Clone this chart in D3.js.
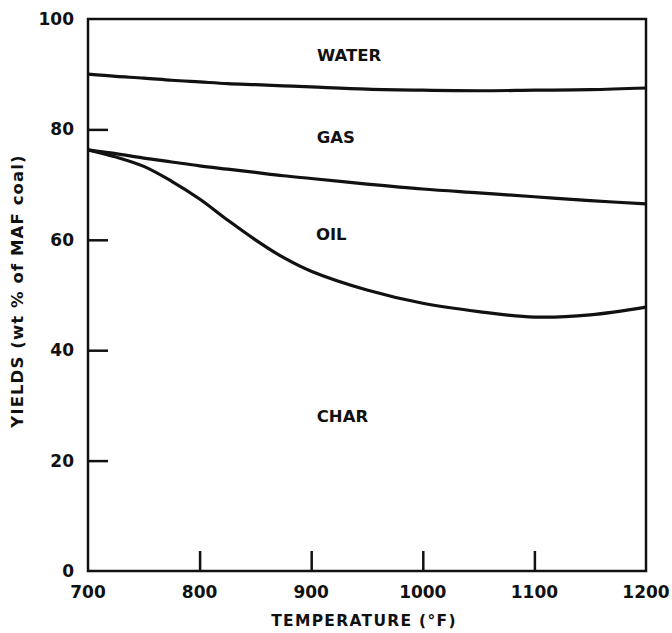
<!DOCTYPE html>
<html><head><meta charset="utf-8">
<script src="https://cdn.jsdelivr.net/npm/d3@7"></script>
<style>body{margin:0;background:#fff}svg{display:block}text{font-family:"DejaVu Sans",sans-serif;font-weight:bold;fill:#111}</style>
</head><body>
<script>
const temps = [700,725,750,775,800,825,850,875,900,950,1000,1050,1100,1150,1200];
const waterLine = [90.0,89.6,89.3,88.9,88.6,88.3,88.1,87.9,87.7,87.3,87.1,87.0,87.1,87.2,87.5];
const gasLine = [76.3,75.6,74.8,74.1,73.4,72.8,72.2,71.6,71.1,70.1,69.2,68.5,67.8,67.1,66.5];
const oilLine = [76.3,75.0,73.3,70.6,67.4,63.6,60.0,56.8,54.3,50.9,48.5,47.0,46.0,46.4,47.8];
const xTicks = [700,800,900,1000,1100,1200];
const yTicks = [0,20,40,60,80,100];
const regionLabels = ["WATER","GAS","OIL","CHAR"];
const regionT = [934,922,918,928];
const regionY = [92.4,77.5,60.0,27.0];

const W=672,H=633, L=88,R=646,T=19,B=571;
const svg=d3.select("body").append("svg").attr("width",W).attr("height",H);
const x=d3.scaleLinear().domain([700,1200]).range([L,R]);
const y=d3.scaleLinear().domain([0,100]).range([B,T]);
const ink="#111";

svg.append("rect").attr("x",L).attr("y",T).attr("width",R-L).attr("height",B-T)
  .attr("fill","none").attr("stroke",ink).attr("stroke-width",2.5);

const xAxis=d3.axisBottom(x).tickValues(xTicks.filter(d=>d>700&&d<1200)).tickSize(-20).tickFormat("");
svg.append("g").attr("transform",`translate(0,${B})`).call(xAxis)
  .call(g=>{g.select(".domain").remove();g.selectAll("line").attr("stroke",ink).attr("stroke-width",2.5);});
const yAxis=d3.axisLeft(y).tickValues(yTicks.filter(d=>d>0&&d<100)).tickSize(-20).tickFormat("");
svg.append("g").attr("transform",`translate(${L},0)`).call(yAxis)
  .call(g=>{g.select(".domain").remove();g.selectAll("line").attr("stroke",ink).attr("stroke-width",2.5);});

svg.append("g").selectAll("text").data(xTicks).join("text")
  .attr("x",d=>x(d)).attr("y",598).attr("text-anchor","middle").attr("font-size",17).text(d=>d);
svg.append("g").selectAll("text").data(yTicks).join("text")
  .attr("x",74).attr("y",d=>y(d)+6).attr("text-anchor","end").attr("font-size",17).text(d=>d);

const line=d3.line().x((d,i)=>x(temps[i])).y(d=>y(d)).curve(d3.curveCatmullRom.alpha(0.5));
[waterLine,gasLine,oilLine].forEach(s=>{
  svg.append("path").attr("d",line(s)).attr("fill","none").attr("stroke",ink).attr("stroke-width",3.2);
});

svg.append("g").selectAll("text").data(regionLabels).join("text")
  .attr("x",(d,i)=>x(regionT[i])).attr("y",(d,i)=>y(regionY[i])).attr("text-anchor","middle")
  .attr("font-size",16.5).text(d=>d);

svg.append("text").attr("x",364).attr("y",626).attr("text-anchor","middle").attr("font-size",15.5)
  .attr("letter-spacing",1.3).text("TEMPERATURE (°F)");
svg.append("text").attr("transform","translate(23,291) rotate(-90)").attr("text-anchor","middle")
  .attr("font-size",16.5).attr("letter-spacing",1.1).text("YIELDS (wt % of MAF coal)");
</script>
</body></html>
